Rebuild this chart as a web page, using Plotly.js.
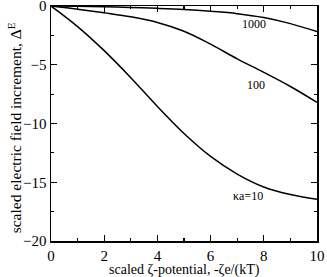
<!DOCTYPE html>
<html>
<head>
<meta charset="utf-8">
<script src="https://cdn.plot.ly/plotly-3.0.1.min.js"></script>
<style>html,body{margin:0;padding:0;background:#fff}#chart{width:327px;height:277px}</style>
</head>
<body>
<div id="chart"></div>
<script>
var zeta = [0, 1, 2, 3, 4, 5, 6, 7, 8, 9, 10];
var ka10 = [0, -1.75, -3.8, -6.1, -8.55, -10.85, -12.8, -14.3, -15.4, -16.05, -16.45];
var ka100 = [0, -0.27, -0.58, -0.92, -1.4, -2.15, -3.25, -4.5, -5.65, -6.85, -8.2];
var ka1000 = [0, -0.02, -0.06, -0.12, -0.2, -0.3, -0.45, -0.65, -0.98, -1.5, -2.18];
var seriesLabels = ["κa=10", "100", "1000"];
var labelPos = [[7.4, -16.2], [7.7, -6.75], [7.65, -1.5]];
var xTitle = "scaled ζ-potential, -ζe/(kT)";
var yTitle = "scaled electric field increment, Δ<sup>E</sup>";

var font = "'Liberation Serif', 'Times New Roman', Times, serif";
var mk = function (y) {
  return {x: zeta, y: y, type: "scatter", mode: "lines",
    line: {color: "#000", width: 1.5, shape: "spline", smoothing: 1},
    hoverinfo: "none", showlegend: false};
};
var traces = [mk(ka10), mk(ka100), mk(ka1000)];
var annotations = seriesLabels.map(function (t, i) {
  return {x: labelPos[i][0], y: labelPos[i][1], text: t, showarrow: false,
    font: {family: font, size: 12, color: "#000"}};
});
annotations.push({xref: "paper", yref: "paper", x: 0.5, y: -0.123, yanchor: "middle",
  text: xTitle, showarrow: false, font: {family: font, size: 14, color: "#000"}});
annotations.push({xref: "paper", yref: "paper", x: -0.135, y: 0.48, xanchor: "center", yanchor: "middle",
  textangle: -90, text: yTitle, showarrow: false, font: {family: font, size: 15.5, color: "#000"}});
var axisBase = {
  showgrid: false, zeroline: false, showline: true, linecolor: "#000", linewidth: 1.5,
  mirror: "allticks", ticks: "inside", ticklen: 6, tickwidth: 1.2, tickcolor: "#000",
  ticklabeloverflow: "allow",
  tickfont: {family: font, size: 15, color: "#000"}
};
var layout = {
  width: 327, height: 277,
  margin: {l: 51, r: 10, t: 6, b: 36},
  paper_bgcolor: "#fff", plot_bgcolor: "#fff",
  font: {family: font, color: "#000"},
  xaxis: Object.assign({}, axisBase, {
    range: [0, 10], dtick: 2, tick0: 0, ticklabelstandoff: 0,
    minor: {ticks: "inside", ticklen: 3, dtick: 1, tickcolor: "#000", tickwidth: 1.2}
  }),
  yaxis: Object.assign({}, axisBase, {
    range: [-20, 0], dtick: 5, tick0: 0,
    minor: {ticks: "inside", ticklen: 3, dtick: 2.5, tickcolor: "#000", tickwidth: 1.2}
  }),
  annotations: annotations
};
Plotly.newPlot("chart", traces, layout, {staticPlot: true, displayModeBar: false});
</script>
</body>
</html>
